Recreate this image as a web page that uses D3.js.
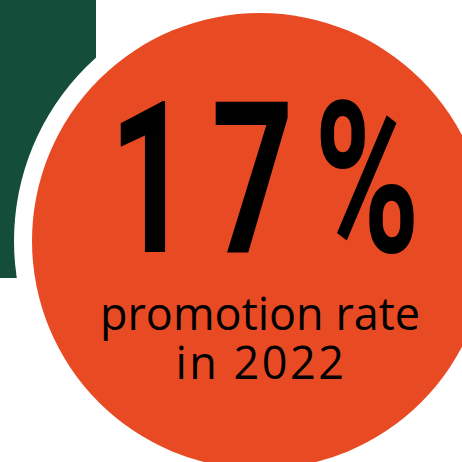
<!DOCTYPE html>
<html>
<head>
<meta charset="utf-8">
<script src="https://cdn.jsdelivr.net/npm/d3@7"></script>
<style>
html,body{margin:0;padding:0;background:#fff;overflow:hidden;}
svg{display:block;}
</style>
</head>
<body>
<script>
const values = [17];
const valueLabels = ["17%"];
const captionLines = ["promotion rate", "in 2022"];

const W = 462, H = 462;
const svg = d3.select("body").append("svg").attr("width", W).attr("height", H);

const orange = "#e84a24", green = "#144d3a";

// green block
svg.append("rect").attr("x", 0).attr("y", 0).attr("width", 96).attr("height", 278).attr("fill", green);

const cx = 260, cy = 241, r = 228, ringR = 246;
svg.append("circle").attr("cx", cx).attr("cy", cy).attr("r", ringR).attr("fill", "#fff");
svg.append("circle").attr("cx", cx).attr("cy", cy).attr("r", r).attr("fill", orange);

// big number
const big = svg.append("text")
  .attr("font-family", "Roboto, 'DejaVu Sans', sans-serif")
  .attr("font-weight", 700)
  .attr("font-size", 211)
  .attr("letter-spacing", 30)
  .attr("fill", "#000")
  .attr("x", 0).attr("y", 0)
  .text(d3.format(".0f")(values[0]) + "%");

const bb = big.node().getBBox();
const left = 109, right = 420, baseline = 252;
const inkW = bb.width - 30;
const s = (right - left) / inkW;
big.attr("transform", `translate(${left - bb.x * s},${baseline}) scale(${s},1)`);

const cap = svg.append("text").attr("font-family", "'Open Sans', sans-serif")
  .attr("font-size", 45).attr("fill", "#000").attr("text-anchor", "middle");
cap.selectAll("tspan").data(captionLines).join("tspan")
  .attr("x", (d, i) => cx + (i === 1 ? 1 : 0))
  .attr("y", (d, i) => 330 + i * 49)
  .attr("letter-spacing", (d, i) => i === 1 ? 2.5 : 0)
  .text(d => d);
</script>
</body>
</html>
